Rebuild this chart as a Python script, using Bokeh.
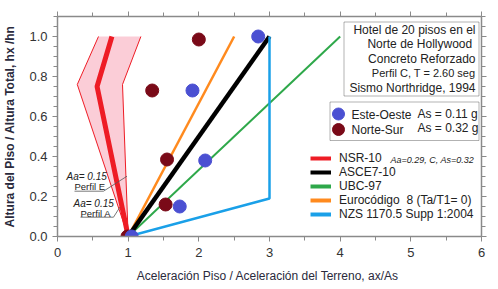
import math
from bokeh.plotting import figure
from bokeh.models import (Range1d, FixedTicker, LinearAxis, Label, Legend, LegendItem,
                          BoxAnnotation, ColumnDataSource)
from bokeh.embed import file_html
from bokeh.resources import INLINE

# ---------------- data ----------------
x_ticks = [0, 1, 2, 3, 4, 5, 6]
x_tick_labels = ["0", "1", "2", "3", "4", "5", "6"]
y_ticks = [0.0, 0.2, 0.4, 0.6, 0.8, 1.0]
y_tick_labels = ["0.0", "0.2", "0.4", "0.6", "0.8", "1.0"]

nsr_x = [1.0, 0.56, 0.77]
nsr_y = [0.0, 0.75, 1.0]
band_left_x = [1.0, 0.28, 0.58]
band_right_x = [1.0, 0.92, 1.18]
band_y = [0.0, 0.76, 1.0]

asce_x = [1.0, 3.0]
asce_y = [0.0, 1.0]
ubc_x = [1.0, 4.0]
ubc_y = [0.0, 1.0]
euro_x = [1.0, 2.5]
euro_y = [0.0, 1.0]
nzs_x = [1.0, 3.0, 3.0]
nzs_y = [0.0, 0.19, 1.0]

eo_x = [1.05, 1.73, 2.09, 1.91, 2.84]
eo_y = [0.0, 0.15, 0.38, 0.73, 1.0]
ns_x = [0.99, 1.53, 1.55, 1.34, 2.0]
ns_y = [0.0, 0.16, 0.385, 0.73, 0.985]

series_names = ["NSR-10", "ASCE7-10", "UBC-97", "Eurocódigo  8 (Ta/T1= 0)", "NZS 1170.5 Supp 1:2004"]
info_lines = ["Hotel de 20 pisos en el", "Norte de  Hollywood", "Concreto Reforzado",
              "Perfil C, T = 2.60 seg", "Sismo Northridge, 1994"]
x_title = "Aceleración Piso / Aceleración del Terreno,  ax/As"
y_title = "Altura del Piso / Altura Total, hx /hn"

# ---------------- layout helpers (pixel -> data for annotations) ----------------
FL, FR, FT, FB = 57, 481, 16, 236
XMAX, YMAX = 6.0, 1.1
def dx(px):
    return (px - FL) / (FR - FL) * XMAX
def dy(py):
    return (FB - py) / (FB - FT) * YMAX

FONT = "Liberation Sans"
TXT = "#222222"
TITLE_C = "#2a2a3c"

p = figure(width=498, height=289, output_backend="svg", toolbar_location=None,
           x_range=Range1d(0, XMAX), y_range=Range1d(0, YMAX),
           min_border_left=FL, min_border_right=498 - FR, min_border_top=FT,
           min_border_bottom=289 - FB, background_fill_color="white",
           border_fill_color="white", outline_line_color=None)
p.grid.visible = False

RED = "#ee1c25"
PINK = "#fbcdd7"
BLACK = "#000000"
GREEN = "#2ea84a"
ORANGE = "#ff8a1e"
BLUE = "#1aa0e8"
DOT_BLUE = "#4b50d2"
DOT_RED = "#7a0a18"

# boxes (underlay, below glyphs)
p.add_layout(BoxAnnotation(left=dx(343.5), right=dx(478.5), top=dy(21.5), bottom=dy(95.5),
                           fill_color="white", fill_alpha=1, line_color="black", line_width=1,
                           level="underlay"))
p.add_layout(BoxAnnotation(left=dx(329.5), right=dx(478.5), top=dy(101.5), bottom=dy(140),
                           fill_color="white", fill_alpha=1, line_color="black", line_width=1,
                           level="underlay"))

# band
p.patch(band_left_x + band_right_x[::-1], band_y + band_y[::-1], fill_color=PINK,
        line_color=None)
p.line(band_left_x, band_y, line_color=RED, line_width=1)
p.line(band_right_x, band_y, line_color=RED, line_width=1)

p.line(nsr_x, nsr_y, line_color=RED, line_width=5)
p.line(euro_x, euro_y, line_color=ORANGE, line_width=2.5)
p.line(ubc_x, ubc_y, line_color=GREEN, line_width=2)
p.line(asce_x, asce_y, line_color=BLACK, line_width=4.5)
p.line(nzs_x, nzs_y, line_color=BLUE, line_width=2.5)

p.scatter(ns_x, ns_y, size=13, fill_color=DOT_RED, line_color=DOT_RED)
p.scatter(eo_x, eo_y, size=13, fill_color=DOT_BLUE, line_color=DOT_BLUE)

# legend proxies (a single NaN point: draws nothing, only supplies legend swatches)
legend_colors = [RED, BLACK, GREEN, ORANGE, BLUE]
proxies = [p.line(x=[float("nan")], y=[float("nan")], line_color=c, line_width=4)
           for c in legend_colors]

# axes
AX = "#8a8a8a"
def style_axis(ax, labels=True):
    ax.axis_line_color = AX
    ax.axis_line_width = 1.5
    ax.major_tick_line_color = AX
    ax.minor_tick_line_color = AX
    ax.major_tick_in = 0
    ax.major_tick_out = 5
    ax.minor_tick_in = 0
    ax.minor_tick_out = 4
    ax.major_label_text_font = FONT
    ax.major_label_text_font_size = "13px"
    ax.major_label_text_color = "#333333"
    if not labels:
        ax.major_label_text_alpha = 0
        ax.major_label_text_font_size = "1px"
        ax.major_label_standoff = 0

xt = FixedTicker(ticks=x_ticks, minor_ticks=[t + 0.5 for t in x_ticks[:-1]])
yt = FixedTicker(ticks=y_ticks, minor_ticks=[round(i * 0.05, 2) for i in range(23)])

p.xaxis.ticker = xt
p.yaxis.ticker = yt
p.xaxis.major_label_overrides = dict(zip(x_ticks, x_tick_labels))
p.yaxis.major_label_overrides = dict(zip(y_ticks, y_tick_labels))
style_axis(p.xaxis[0])
style_axis(p.yaxis[0])
p.xaxis.major_label_standoff = 6
p.yaxis.major_label_standoff = 5

p.xaxis.axis_label = x_title
p.xaxis.axis_label_text_font = FONT
p.xaxis.axis_label_text_font_size = "12px"
p.xaxis.axis_label_text_font_style = "normal"
p.xaxis.axis_label_text_color = TITLE_C
p.xaxis.axis_label_standoff = 9

p.yaxis.axis_label = y_title
p.yaxis.axis_label_text_font = FONT
p.yaxis.axis_label_text_font_size = "12px"
p.yaxis.axis_label_text_font_style = "bold"
p.yaxis.axis_label_text_color = TITLE_C
p.yaxis.axis_label_standoff = 9

top = LinearAxis(ticker=xt)
style_axis(top, labels=False)
p.add_layout(top, "above")
right = LinearAxis(ticker=yt)
style_axis(right, labels=False)
p.add_layout(right, "right")

# info box text
for t, py, fs in zip(info_lines, [29.3, 43.7, 58.5, 72.7, 87.7],
                     ["12px", "12px", "12px", "11px", "12px"]):
    p.add_layout(Label(x=dx(475), y=dy(py), text=t, text_font=FONT, text_font_size=fs,
                       text_color=TXT, text_align="right", text_baseline="middle"))

# dots legend box content
key_src = ColumnDataSource(dict(x=[dx(338), dx(338)], y=[dy(113.5), dy(129)],
                                c=[DOT_BLUE, DOT_RED]))
p.scatter("x", "y", source=key_src, size=12, fill_color="c", line_color="c")
for t, px, py in [("Este-Oeste", 351, 114), ("Norte-Sur", 351, 129.3),
                  ("As = 0.11 g", 417, 113.3), ("As = 0.32 g", 417, 127.7)]:
    p.add_layout(Label(x=dx(px), y=dy(py), text=t, text_font=FONT, text_font_size="12px",
                       text_color=TXT, text_align="left", text_baseline="middle"))

# lines legend
legend = Legend(items=[LegendItem(label=n, renderers=[r]) for n, r in zip(series_names, proxies)],
                location=(310 - FL, FB - 221), padding=0, margin=0, spacing=0,
                glyph_width=21, glyph_height=14, label_height=14, label_standoff=8,
                border_line_alpha=0, background_fill_alpha=0,
                label_text_font=FONT, label_text_font_size="12px", label_text_color=TXT)
p.add_layout(legend)
p.add_layout(Label(x=dx(390), y=dy(159), text="Aa=0.29, C, As=0.32", text_font=FONT,
                   text_font_size="9px", text_font_style="italic", text_color=TXT,
                   text_align="left", text_baseline="middle"))

# band annotations
for t, px, py, st, fs in [("Aa= 0.15", 66, 176, "italic", "10px"),
                          ("Perfil E", 74, 186, "normal", "9.5px"),
                          ("Aa= 0.15", 73, 202.7, "italic", "10px"),
                          ("Perfil A", 80, 212.5, "normal", "9.5px")]:
    p.add_layout(Label(x=dx(px), y=dy(py), text=t, text_font=FONT, text_font_size=fs,
                       text_font_style=st, text_color=TXT, text_align="left",
                       text_baseline="middle"))
lead_src = ColumnDataSource(dict(
    xs=[[dx(74), dx(103), dx(126.5)], [dx(80), dx(113), dx(119.5)]],
    ys=[[dy(190.7), dy(190.7), dy(175.7)], [dy(216.7), dy(216.7), dy(206.5)]]))
p.multi_line("xs", "ys", source=lead_src, line_color="#555555", line_width=0.8)

open("out.html", "w").write(file_html(p, INLINE))
